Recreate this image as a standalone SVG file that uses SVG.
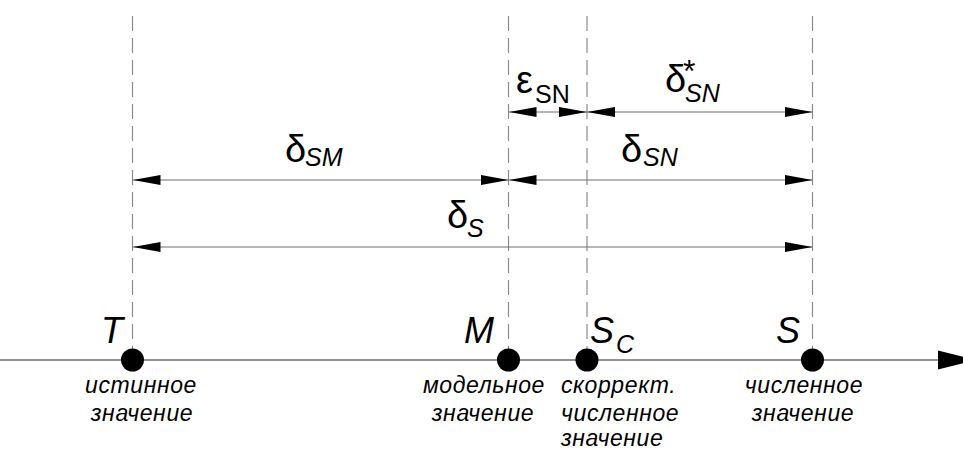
<svg xmlns="http://www.w3.org/2000/svg" width="963" height="450" viewBox="0 0 963 450">
<defs>
<style>
.dash{stroke:#8c8c8c;stroke-width:1.2;stroke-dasharray:15 7;fill:none}
.dim{stroke:#6e6e6e;stroke-width:1.2;fill:none}
.axis{stroke:#6e6e6e;stroke-width:1.4;fill:none}
.g{font-family:"Liberation Sans",Arial,sans-serif;font-size:38px;fill:#000}
.sub{font-size:25px}
.ast{font-size:32px}
.it{font-style:italic}
.lbl{font-family:"Liberation Sans",Arial,sans-serif;font-size:36px;font-style:italic;fill:#000}
.cap{font-family:"Liberation Sans",Arial,sans-serif;font-size:23px;font-style:italic;letter-spacing:0.6px;fill:#000}
</style>
<marker id="ah" markerUnits="userSpaceOnUse" markerWidth="28" markerHeight="10" refX="28" refY="5" orient="auto-start-reverse" viewBox="0 0 28 10">
<path d="M0,0 L28,5 L0,10 z" fill="#000"/>
</marker>
</defs>
<rect width="963" height="450" fill="#fff"/>
<g id="guides">
<line class="dash" x1="132.5" y1="16" x2="132.5" y2="350"/>
<line class="dash" x1="508.5" y1="16" x2="508.5" y2="350"/>
<line class="dash" x1="587" y1="16" x2="587" y2="350"/>
<line class="dash" x1="812.5" y1="16" x2="812.5" y2="350"/>
</g>
<g id="connectors">
<line class="dim" x1="508.5" y1="112" x2="587" y2="112" marker-start="url(#ah)" marker-end="url(#ah)"/>
<line class="dim" x1="587" y1="112" x2="812.5" y2="112" marker-start="url(#ah)" marker-end="url(#ah)"/>
<line class="dim" x1="132.5" y1="180" x2="508.5" y2="180" marker-start="url(#ah)" marker-end="url(#ah)"/>
<line class="dim" x1="508.5" y1="180" x2="812.5" y2="180" marker-start="url(#ah)" marker-end="url(#ah)"/>
<line class="dim" x1="132.5" y1="247" x2="812.5" y2="247" marker-start="url(#ah)" marker-end="url(#ah)"/>
<line class="axis" x1="0" y1="360" x2="940" y2="360"/>
<polygon points="938,350.5 976,360 938,369.5" fill="#000"/>
</g>
<g id="dim-labels">
<text class="g" x="516" y="93">ε<tspan class="sub" x="535" y="103">SN</tspan></text>
<text class="g" x="665" y="92">δ<tspan class="ast" x="683" y="82">*</tspan><tspan class="sub it" x="685" y="102">SN</tspan></text>
<text class="g" x="285" y="162">δ<tspan class="sub it" x="305" y="166">SM</tspan></text>
<text class="g" x="621" y="162">δ<tspan class="sub it" x="643" y="166">SN</tspan></text>
<text class="g" x="447" y="228">δ<tspan class="sub it" x="467" y="237">S</tspan></text>
</g>
<g id="node-T">
<circle cx="132.5" cy="360" r="11.5" fill="#000"/>
<text class="lbl" x="101" y="343">T</text>
<text class="cap" x="141" y="393" text-anchor="middle">истинное</text>
<text class="cap" x="142" y="421" text-anchor="middle">значение</text>
</g>
<g id="node-M">
<circle cx="508.5" cy="360" r="11.5" fill="#000"/>
<text class="lbl" x="464" y="343">M</text>
<text class="cap" x="484" y="393" text-anchor="middle">модельное</text>
<text class="cap" x="483" y="421" text-anchor="middle">значение</text>
</g>
<g id="node-Sc">
<circle cx="587" cy="360" r="11.5" fill="#000"/>
<text class="lbl" x="590" y="343">S<tspan class="sub" x="616" y="353">C</tspan></text>
<text class="cap" x="561" y="393">скоррект.</text>
<text class="cap" x="561" y="421">численное</text>
<text class="cap" x="561" y="446">значение</text>
</g>
<g id="node-S">
<circle cx="812.5" cy="360" r="11.5" fill="#000"/>
<text class="lbl" x="776" y="343">S</text>
<text class="cap" x="804" y="393" text-anchor="middle">численное</text>
<text class="cap" x="803" y="421" text-anchor="middle">значение</text>
</g>
</svg>
